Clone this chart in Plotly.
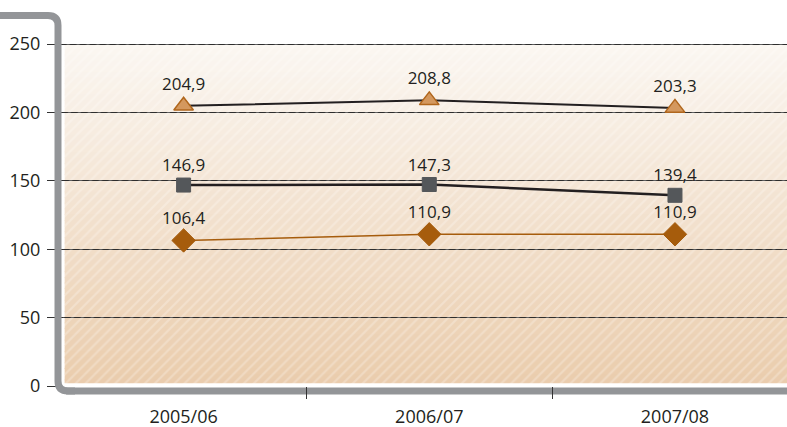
import plotly.graph_objects as go

# ---- data ----
categories = ["2005/06", "2006/07", "2007/08"]
series_triangle = [204.9, 208.8, 203.3]
series_square = [146.9, 147.3, 139.4]
series_diamond = [106.4, 110.9, 110.9]
y_ticks = [0, 50, 100, 150, 200, 250]


def fmt(v):
    return f"{v:.1f}".replace(".", ",")


# ---- geometry / style ----
W, H = 787, 427
ML, MR, MT, MB = 61, 0, 12, 41
Y_MAX = 273.4
X_RANGE = [-0.499, 2.456]
FONT = "Open Sans"
TXT = "#231f20"
FRAME = "#939598"

PW = W - ML - MR
PH = H - MT - MB
xpos = list(range(len(categories)))


def px(xpix, ypix):
    return f"{(xpix - ML) / PW:.5f},{(H - MB - ypix) / PH:.5f}"


fig = go.Figure()

# hatch overlay (white diagonal strokes)
fig.add_trace(go.Scatter(
    x=[X_RANGE[0] + 0.01, X_RANGE[1], X_RANGE[1], X_RANGE[0] + 0.01],
    y=[0, 0, y_ticks[-1], y_ticks[-1]],
    fill="toself", mode="none", fillcolor="rgba(0,0,0,0)",
    fillpattern=dict(shape="/", fgcolor="rgba(255,255,255,0.5)",
                     bgcolor="rgba(0,0,0,0)", size=7, solidity=0.3),
    hoverinfo="skip", showlegend=False,
))

series = [
    (series_triangle, "triangle-up", "#d4985e", "#b0661c", 1.5, "#231f20", 2, 17),
    (series_square, "square", "#54575a", "#54575a", 1, "#231f20", 2.5, 14),
    (series_diamond, "diamond", "#a65c0c", "#a65c0c", 1, "#a65c0c", 1.5, 18),
]
for vals, sym, fc, lc, lw, linec, linew, size in series:
    fig.add_trace(go.Scatter(
        x=xpos, y=vals, mode="lines+markers+text",
        text=[fmt(v) for v in vals], textposition="top center",
        textfont=dict(family=FONT, size=17, color=TXT),
        line=dict(color=linec, width=linew),
        marker=dict(symbol=sym, size=size, color=fc, line=dict(color=lc, width=lw)),
        cliponaxis=False, showlegend=False,
    ))

shapes = []
# vertical gradient background
n = 60
top = (251, 247, 242)
bot = (234, 204, 172)
for i in range(n):
    t = (i + 0.5) / n
    c = tuple(round(top[k] + (bot[k] - top[k]) * t) for k in range(3))
    y1 = y_ticks[-1] * (1 - i / n) + 0.6
    y0 = y_ticks[-1] * (1 - (i + 1) / n)
    shapes.append(dict(type="rect", xref="x domain", yref="y", x0=0.005, x1=1,
                       y0=max(y0, 2), y1=min(y1, y_ticks[-1]), line=dict(width=0),
                       fillcolor=f"rgb{c}", layer="below"))

# frame: bottom bar (below, so boundary ticks show on it)
shapes.append(dict(type="path", xref="paper", yref="paper",
                   path=f"M{px(66, 391)} L{px(787, 391)}",
                   line=dict(color=FRAME, width=7), layer="below"))
# frame: left bar + top stub + rounded corners (above)
shapes.append(dict(type="path", xref="paper", yref="paper",
                   path=(f"M{px(0, 15.5)} L{px(48, 15.5)} Q{px(58, 15.5)} {px(58, 25.5)} "
                         f"L{px(58, 381)} Q{px(58, 391)} {px(68, 391)} L{px(75, 391)}"),
                   line=dict(color=FRAME, width=7), layer="above"))

fig.update_layout(
    width=W, height=H,
    margin=dict(l=ML, r=MR, t=MT, b=MB),
    paper_bgcolor="white", plot_bgcolor="white",
    font=dict(family=FONT, size=18, color=TXT),
    shapes=shapes,
    showlegend=False,
)
fig.update_xaxes(
    range=X_RANGE, tickvals=xpos, ticktext=categories,
    ticks="", showgrid=False, showline=False, zeroline=False,
    minor=dict(tick0=0.5, dtick=1, ticks="outside", ticklen=12,
               tickcolor="#333333", tickwidth=1, showgrid=False),
    tickfont=dict(family=FONT, size=18, color=TXT), ticklabelstandoff=18,
)
fig.update_yaxes(
    range=[0, Y_MAX], tickvals=y_ticks,
    ticks="outside", ticklen=13, tickcolor="#333333", tickwidth=1,
    showgrid=True, gridcolor="#2e2e2e", gridwidth=1,
    showline=False, zeroline=False,
    tickfont=dict(family=FONT, size=18, color=TXT), ticklabelstandoff=3,
)

fig.write_html("out.html", config={"displayModeBar": False},
               post_script="document.body.style.margin='0';")
